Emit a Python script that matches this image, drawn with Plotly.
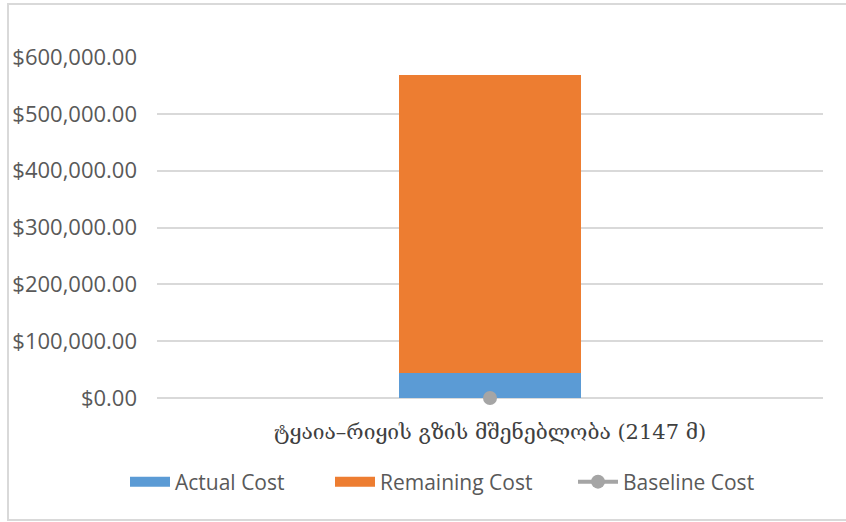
import plotly.graph_objects as go

categories = ["ტყაია–რიყის გზის მშენებლობა (2147 მ)"]
actual_cost = [44500]
remaining_cost = [524700]
baseline_cost = [0]
tick_vals = [0, 100000, 200000, 300000, 400000, 500000, 600000]
tick_text = ["$0.00", "$100,000.00", "$200,000.00", "$300,000.00",
             "$400,000.00", "$500,000.00", "$600,000.00"]

C_ACT, C_REM, C_BASE = "#5B9BD5", "#ED7D31", "#A5A5A5"

fig = go.Figure()
fig.add_trace(go.Bar(x=categories, y=actual_cost, name="Actual Cost", showlegend=False,
                     marker=dict(color=C_ACT, line=dict(width=0)), width=0.272))
fig.add_trace(go.Bar(x=categories, y=remaining_cost, name="Remaining Cost", showlegend=False,
                     marker=dict(color=C_REM, line=dict(width=0)), width=0.272))
fig.add_trace(go.Scatter(x=categories, y=baseline_cost, name="Baseline Cost", showlegend=False,
                         mode="lines+markers",
                         line=dict(color=C_BASE, width=4),
                         marker=dict(color=C_BASE, size=14),
                         cliponaxis=False))
# legend entries (Excel-like wide swatches), one legend each for exact placement
fig.add_trace(go.Scatter(x=[None], y=[None], name="Actual Cost", mode="lines",
                         line=dict(color=C_ACT, width=13), legend="legend"))
fig.add_trace(go.Scatter(x=[None], y=[None], name="Remaining Cost", mode="lines",
                         line=dict(color=C_REM, width=13), legend="legend2"))
fig.add_trace(go.Scatter(x=[None], y=[None], name="Baseline Cost", mode="lines+markers",
                         line=dict(color=C_BASE, width=4),
                         marker=dict(color=C_BASE, size=14), legend="legend3"))

W, H = 846, 522
L, R, T, B = 157, 23, 57, 124
pw, ph = W - L - R, H - T - B

def px(x):
    return (x - L) / pw

def py(y):
    return (H - B - y) / ph

def leg(xpix):
    return dict(orientation="h", x=px(xpix), xanchor="left", y=py(482), yanchor="middle",
                font=dict(size=21, color="#595959"), itemwidth=40,
                bgcolor="rgba(0,0,0,0)")

fig.update_layout(
    width=W, height=H,
    barmode="stack",
    plot_bgcolor="white", paper_bgcolor="white",
    margin=dict(l=L, r=R, t=T, b=B, pad=0, autoexpand=False),
    font=dict(family="Open Sans, DejaVu Sans", color="#595959", size=20),
    xaxis=dict(showgrid=False, showline=False, ticks="", zeroline=False,
               tickfont=dict(family="DejaVu Serif, Liberation Serif", size=21, color="#404040"),
               ticklabelstandoff=19, automargin=False,
               range=[-0.5, 0.5]),
    yaxis=dict(range=[0, 600000], tickvals=tick_vals, ticktext=tick_text,
               showgrid=True, gridcolor="#D9D9D9", gridwidth=1.5,
               zeroline=True, zerolinecolor="#D9D9D9", zerolinewidth=1.5,
               showline=False, ticks="", ticklabelstandoff=19, automargin=False,
               tickfont=dict(size=22, color="#595959")),
    legend=leg(175 - 50),
    legend2=leg(380 - 50),
    legend3=leg(623 - 50),
    showlegend=True,
    bargap=0,
    shapes=[dict(type="rect", xref="paper", yref="paper",
                 x0=px(8), x1=px(860), y0=py(520), y1=py(4),
                 line=dict(color="#D9D9D9", width=2), fillcolor="rgba(0,0,0,0)",
                 layer="below")],
)

fig.write_html("out.html")
